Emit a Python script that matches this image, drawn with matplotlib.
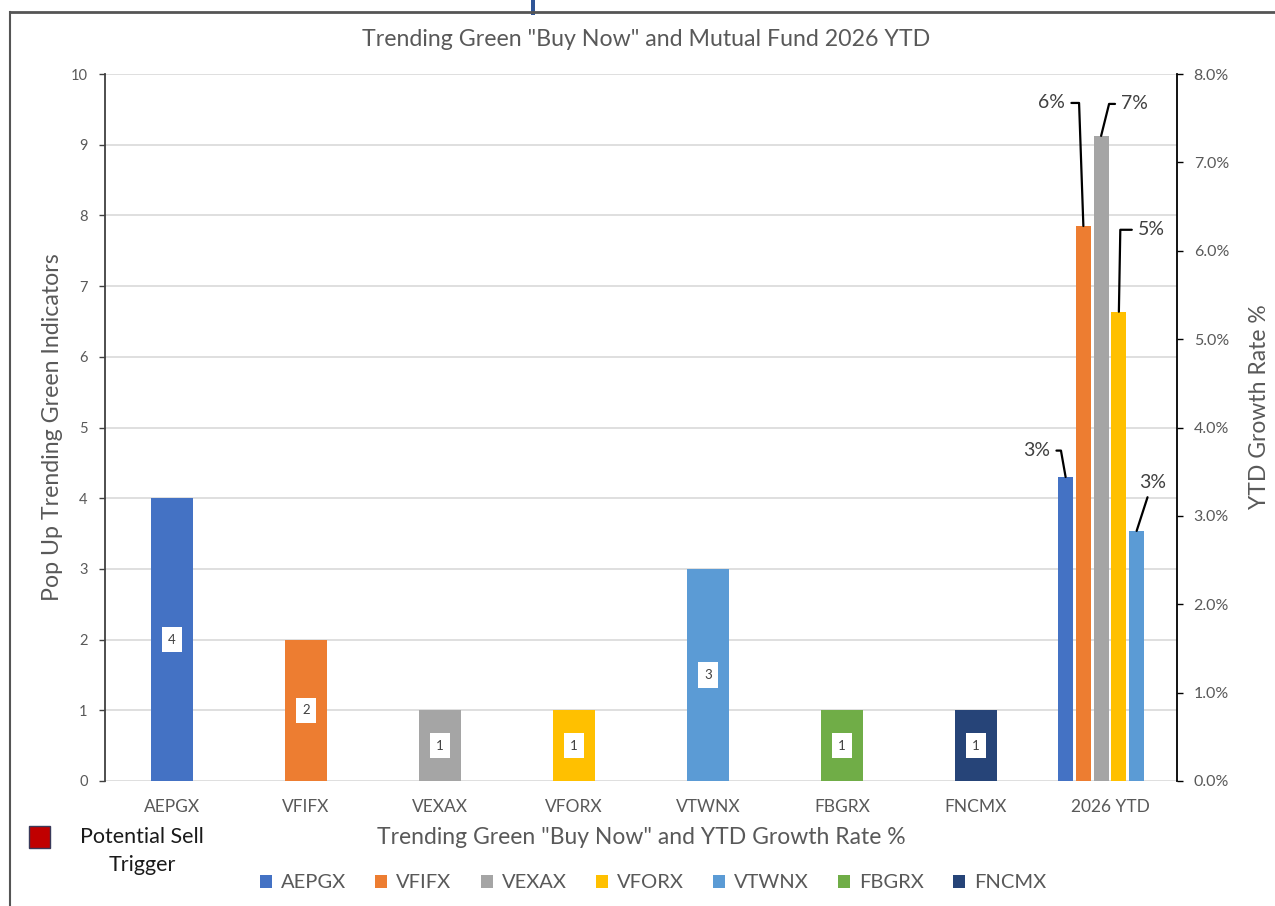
import matplotlib
matplotlib.use("Agg")
import matplotlib.pyplot as plt
from matplotlib.patches import Patch, Rectangle
from matplotlib.lines import Line2D
from matplotlib.ticker import FuncFormatter
import numpy as np

# ---------------- data ----------------
categories = ["AEPGX", "VFIFX", "VEXAX", "VFORX", "VTWNX", "FBGRX", "FNCMX", "2026 YTD"]
funds = ["AEPGX", "VFIFX", "VEXAX", "VFORX", "VTWNX", "FBGRX", "FNCMX"]
indicators = [4, 2, 1, 1, 3, 1, 1]
ytd_funds = ["AEPGX", "VFIFX", "VEXAX", "VFORX", "VTWNX"]
ytd_growth = [3.44, 6.28, 7.30, 5.31, 2.83]   # percent
left_ticks = list(range(0, 11))
right_ticks = [0, 1, 2, 3, 4, 5, 6, 7, 8]

title = 'Trending Green "Buy Now" and Mutual Fund 2026 YTD'
xlabel = 'Trending Green "Buy Now" and YTD Growth Rate %'
ylabel = 'Pop Up Trending Green Indicators'
y2label = 'YTD Growth Rate %'
sell_label = 'Potential Sell\nTrigger'

# ---------------- styles ----------------
fund_colors = ["#4472C4", "#ED7D31", "#A5A5A5", "#FFC000", "#5B9BD5", "#70AD47", "#264478"]
# label placement for YTD bars: (dx pt, dy pt, ha, angleB or None for straight)
ytd_label_style = [(-11, 19, 'right', 100), (-13, 88.6, 'right', 92),
                   (14.4, 23, 'left', 76), (13.7, 59, 'left', 89),
                   (11.2, 34.6, 'center', None)]

plt.rcParams['font.family'] = ['Lato', 'DejaVu Sans']
GRAY = '#595959'

W, H = 1275, 906
fig = plt.figure(figsize=(W / 100, H / 100), dpi=100)
ax = fig.add_axes([105 / W, 1 - 781 / H, (1177 - 105) / W, (781 - 74) / H])
ax2 = ax.twinx()

x = np.arange(len(categories))

# primary bars
for i, f in enumerate(funds):
    ax.bar(x[i], indicators[i], width=0.315, color=fund_colors[i], zorder=2)
    ax.text(x[i], indicators[i] / 2, str(indicators[i]), ha='center', va='center',
            fontsize=9.5, color='#404040', zorder=3,
            bbox=dict(boxstyle='square,pad=0.5', fc='white', ec='none'))

ax.set_xlim(-0.5, len(categories) - 0.5)
ax.set_ylim(0, 10)
ax.set_yticks(left_ticks)
ax.set_xticks(x)
ax.set_xticklabels(categories)
ax.yaxis.grid(True, color='#D9D9D9', lw=1.2)
ax.set_axisbelow(True)
for s in ['top', 'right', 'bottom']:
    ax.spines[s].set_visible(False)
ax.spines['left'].set_color('#404040')
ax.spines['left'].set_linewidth(1.3)
ax.tick_params(axis='y', colors=GRAY, labelsize=10.5, length=4, width=1, pad=8.5, color='#404040')
ax.tick_params(axis='x', colors=GRAY, labelsize=12.5, length=0, pad=13)
ax.set_ylabel(ylabel, fontsize=16.7, color=GRAY, va='center', ha='center')
ax.yaxis.set_label_coords(-0.0486, 0.5)
ax.set_xlabel(xlabel, fontsize=16.5, color=GRAY, va='center', ha='center')
ax.xaxis.set_label_coords(0.5, -0.0806)

# secondary bars (YTD cluster, 6 slots)
slots = 6
step = 0.1325
cat = categories.index("2026 YTD")
for j, f in enumerate(ytd_funds):
    c = fund_colors[funds.index(f)]
    xpos = cat + (j - (slots - 1) / 2) * step
    ax2.bar(xpos, ytd_growth[j], width=0.112, color=c, zorder=2)
    dx, dy, ha, angB = ytd_label_style[j]
    if angB is None:
        cs = "arc3,rad=0"
    else:
        cs = f"angle,angleA=0,angleB={angB},rad=0"
    ax2.annotate(f"{round(ytd_growth[j]):.0f}%", xy=(xpos, ytd_growth[j]),
                 xytext=(dx, dy), textcoords='offset points', ha=ha, va='center',
                 fontsize=14, color='#404040',
                 bbox=dict(boxstyle='square,pad=0.1', fc='white', ec='none'),
                 arrowprops=dict(arrowstyle='-', color='black', lw=1.6,
                                 connectionstyle=cs, shrinkA=3, shrinkB=0))

ax2.set_ylim(0, 8)
ax2.set_yticks(right_ticks)
ax2.yaxis.set_major_formatter(FuncFormatter(lambda v, p: f"{v:.1f}%"))
for s in ['top', 'left', 'bottom']:
    ax2.spines[s].set_visible(False)
ax2.spines['right'].set_color('black')
ax2.spines['right'].set_linewidth(1.3)
ax2.tick_params(axis='y', colors=GRAY, labelsize=11.5, length=4, width=1, pad=8, color='black')
ax2.set_ylabel(y2label, fontsize=16.5, color=GRAY, rotation=90, va='center', ha='center')
ax2.yaxis.set_label_coords(1.0766, 0.529)

# title
fig.text(646 / W, 1 - 40 / H, title, ha='center', va='center', fontsize=16.7, color=GRAY)

# legend
handles = [Patch(facecolor=c, edgecolor='none', label=f) for f, c in zip(funds, fund_colors)]
fig.legend(handles=handles, loc='center', bbox_to_anchor=(653 / W, 1 - 883 / H), ncol=7,
           frameon=False, fontsize=14.5, handlelength=0.6, handleheight=0.6,
           handletextpad=0.45, columnspacing=1.45, labelcolor=GRAY)

# potential sell trigger key
fig.patches.append(Rectangle((29 / W, 1 - 848 / H), 21 / W, 22 / H, transform=fig.transFigure,
                             facecolor='#C00000', edgecolor='#3A3A5A', lw=1))
fig.text(142 / W, 1 - 851 / H, sell_label, ha='center', va='center', fontsize=15.5,
         color='#1A1A1A', linespacing=1.45, multialignment='center')

# frame lines & top artifact
fig.lines.append(Line2D([10 / W, 1], [1 - 12 / H, 1 - 12 / H], transform=fig.transFigure,
                        color='#555555', lw=2))
fig.lines.append(Line2D([10 / W, 10 / W], [1 - 12 / H, 0], transform=fig.transFigure,
                        color='#555555', lw=1.5))
fig.patches.append(Rectangle((531 / W, 1 - 15 / H), 4 / W, 15 / H, transform=fig.transFigure,
                             facecolor='#2F5597', edgecolor='none'))

fig.savefig('out.png', dpi=100)
